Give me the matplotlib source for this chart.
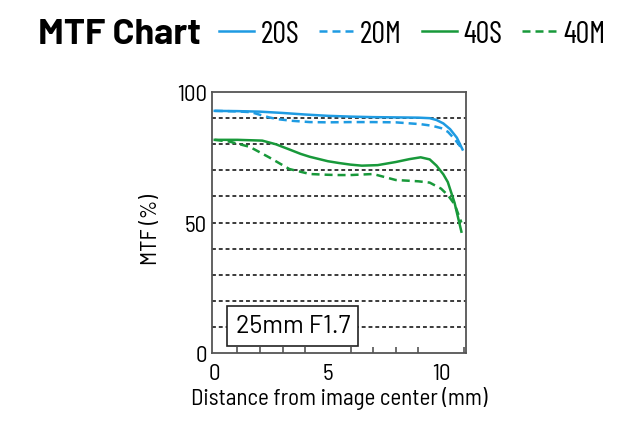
import numpy as np
import matplotlib
matplotlib.use("Agg")
import matplotlib.pyplot as plt

# distance from image centre (mm) and MTF (%)
x_20s = [0, 1, 2, 3, 4, 5, 6, 7, 8, 9, 9.5, 9.8, 10.1, 10.4, 10.7, 10.95]
y_20s = [92.8, 92.7, 92.5, 92.0, 91.4, 90.9, 90.6, 90.4, 90.3, 90.2, 90.0, 89.3, 88.0, 85.8, 82.5, 78.0]

x_20m = [0, 1, 1.6, 2.0, 2.4, 2.8, 3.4, 4.2, 5, 6, 7, 8, 9.1, 9.6, 10, 10.3, 10.6, 10.95]
y_20m = [92.8, 92.6, 92.3, 91.3, 90.3, 89.6, 89.0, 88.5, 88.4, 88.5, 88.5, 88.4, 87.7, 87.1, 86.2, 84.8, 82.0, 78.0]

x_40s = [0, 1, 2.1, 2.7, 3.3, 3.8, 4.2, 5, 5.5, 6, 6.5, 7.2, 8, 8.6, 9.1, 9.5, 9.8, 10.1, 10.3, 10.6, 10.9]
y_40s = [81.7, 81.7, 81.4, 80.0, 78.0, 76.3, 75.2, 73.5, 72.8, 72.2, 71.8, 72.0, 73.2, 74.3, 75.0, 74.2, 71.8, 68.5, 65.5, 57.5, 46.5]

x_40m = [0, 0.66, 1.55, 2.4, 3.3, 4.2, 5, 5.5, 6, 7, 8, 9, 9.5, 10, 10.3, 10.6, 10.9]
y_40m = [81.7, 81.0, 79.0, 75.0, 70.5, 68.6, 68.3, 68.2, 68.2, 68.6, 66.3, 65.8, 65.3, 63.0, 60.5, 57.0, 50.0]

blue = '#1e9be2'
green = '#18993a'

plt.rcParams['font.family'] = ['Barlow Semi Condensed', 'DejaVu Sans']

fig = plt.figure(figsize=(6.4, 4.27), dpi=100)
ax = fig.add_axes([0.332, 0.171, 0.396, 0.611])

ax.plot(x_20s, y_20s, color=blue, lw=1.8, label='20S')
ax.plot(x_20m, y_20m, color=blue, lw=1.8, ls=(0, (3.2, 2)), label='20M')
ax.plot(x_40s, y_40s, color=green, lw=1.8, label='40S')
ax.plot(x_40m, y_40m, color=green, lw=1.8, ls=(0, (3.2, 2)), label='40M')

for g in range(10, 100, 10):
    ax.axhline(g, color='#3a3a3a', lw=1.4, ls=(0, (2, 1.5)), zorder=0)

ax.set_xlim(-0.1, 11.1)
ax.set_ylim(0, 100)
ax.set_xticks([0, 5, 10])
ax.set_xticks(np.arange(0, 12, 1), minor=True)
ax.set_yticks([0, 50, 100])
ax.tick_params(axis='x', which='both', direction='in', length=4, width=1.2,
               color='#555555', labelsize=16.5, pad=7)
ax.tick_params(axis='x', which='major', length=0)
ax.tick_params(axis='y', length=0, labelsize=16.5, pad=4)
for s in ax.spines.values():
    s.set_color('#555555')
    s.set_linewidth(1.3)

ax.set_xlabel('Distance from image center (mm)', fontsize=16.5, labelpad=2)
ax.set_ylabel('MTF (%)', fontsize=16.5)
ax.yaxis.set_label_coords(-0.2, 0.475)

ax.text(3.45, 10.4, '25mm F1.7', fontsize=18, ha='center', va='center',
        family=['Barlow', 'DejaVu Sans'],
        bbox=dict(boxstyle='square,pad=0.33', fc='white', ec='#222222', lw=1.2))

fig.text(38 / 640, 1 - 35 / 427, 'MTF Chart', fontsize=26, fontweight='bold',
         family=['Barlow', 'DejaVu Sans'], va='center', ha='left')
fig.legend(loc='center left', bbox_to_anchor=(219 / 640, 1 - 35 / 427), ncol=4,
           frameon=False, prop={'family': ['Barlow Condensed', 'DejaVu Sans'], 'size': 22},
           handlelength=1.15, handletextpad=0.2,
           columnspacing=0.65, borderaxespad=0, borderpad=0)

fig.savefig('out.png', dpi=100)
